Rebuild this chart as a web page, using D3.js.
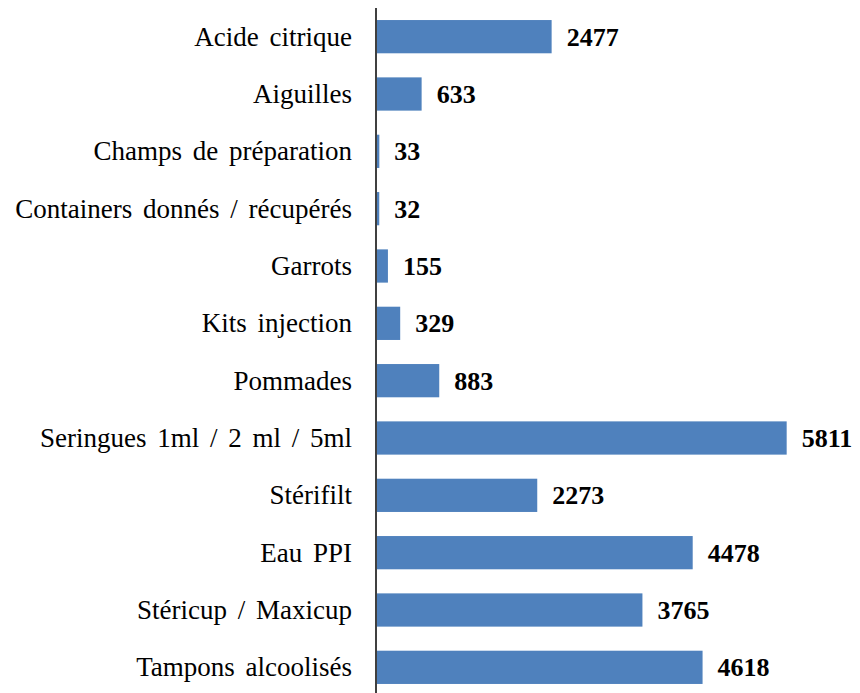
<!DOCTYPE html>
<html><head><meta charset="utf-8">
<script src="https://cdn.jsdelivr.net/npm/d3@7"></script>
<style>body{margin:0;background:#fff}svg{display:block}</style>
</head><body>
<svg id="c" width="860" height="693"></svg>
<script>
const categories = ["Acide citrique","Aiguilles","Champs de préparation","Containers donnés / récupérés","Garrots","Kits injection","Pommades","Seringues 1ml / 2 ml / 5ml","Stérifilt","Eau PPI","Stéricup / Maxicup","Tampons alcoolisés"];
const values = [2477,633,33,32,155,329,883,5811,2273,4478,3765,4618];

const svg = d3.select("#c");
const x0 = 377;
const x = d3.scaleLinear().domain([0,6000]).range([x0,800]);
const y = d3.scaleBand().domain(categories).range([8,696]).paddingInner(0.42).paddingOuter(0.21);

svg.selectAll("rect.bar").data(categories).join("rect")
  .attr("class","bar")
  .attr("x", x(0))
  .attr("y", d=>y(d))
  .attr("width", (d,i)=>x(values[i])-x(0))
  .attr("height", y.bandwidth())
  .attr("fill","#4F81BD");

svg.append("line").attr("x1",376).attr("x2",376).attr("y1",8).attr("y2",693)
  .attr("stroke","#000").attr("stroke-width",1.5);

svg.selectAll("text.cat").data(categories).join("text")
  .attr("class","cat")
  .attr("x", 352)
  .attr("y", d=>y(d)+y.bandwidth()/2)
  .attr("dy","0.33em")
  .attr("text-anchor","end")
  .attr("font-family","'Liberation Serif', 'DejaVu Serif', serif")
  .attr("font-size",27)
  .attr("word-spacing","4px")
  .attr("fill","#000")
  .text(d=>d);

svg.selectAll("text.val").data(categories).join("text")
  .attr("class","val")
  .attr("x", (d,i)=>x(values[i])+15)
  .attr("y", d=>y(d)+y.bandwidth()/2)
  .attr("dy","0.35em")
  .attr("font-family","'Liberation Serif', 'DejaVu Serif', serif")
  .attr("font-weight","bold")
  .attr("font-size",26)
  .attr("fill","#000")
  .text((d,i)=>values[i]);
</script>
</body></html>
